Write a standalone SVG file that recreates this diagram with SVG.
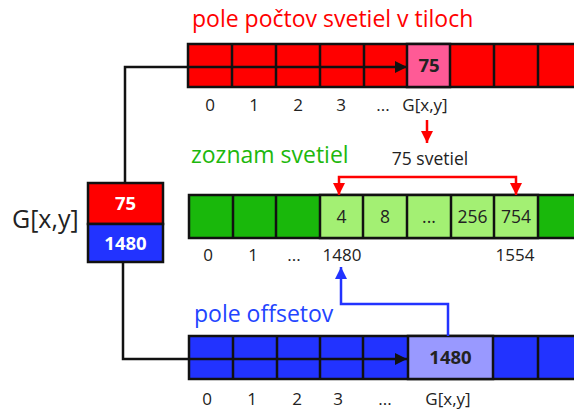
<svg xmlns="http://www.w3.org/2000/svg" width="574" height="412" viewBox="0 0 574 412">
<defs>
<style>
text{font-family:"Open Sans","Noto Sans","Liberation Sans",sans-serif;}
.cell{stroke:#111;stroke-width:2.5;}
.title{font-size:23px;}
.idx{font-size:17px;fill:#222;text-anchor:middle;}
.val{font-size:17.5px;fill:#222;text-anchor:middle;}
.bold{font-size:18.5px;font-weight:bold;fill:#222;text-anchor:middle;}
.wb{font-size:18.5px;font-weight:bold;fill:#fff;text-anchor:middle;}
.conn{fill:none;stroke-width:2.5;}
</style>
<marker id="ab" viewBox="0 0 10 10" refX="10" refY="5" markerWidth="12" markerHeight="12" markerUnits="userSpaceOnUse" orient="auto"><path d="M0,0L10,5L0,10z" fill="#111"/></marker>
<marker id="ar" viewBox="0 0 10 10" refX="10" refY="5" markerWidth="12" markerHeight="12" markerUnits="userSpaceOnUse" orient="auto"><path d="M0,0L10,5L0,10z" fill="#ff0000"/></marker>
<marker id="abl" viewBox="0 0 10 10" refX="10" refY="5" markerWidth="12" markerHeight="12" markerUnits="userSpaceOnUse" orient="auto"><path d="M0,0L10,5L0,10z" fill="#2233ff"/></marker>
</defs>
<rect width="574" height="412" fill="#fff"/>

<g id="counts-array">
<text class="title" x="192" y="27" fill="#ff0000">pole počtov svetiel v tiloch</text>
<rect class="cell" x="188" y="44" width="400" height="43" fill="#ff0000"/>
<rect class="cell" x="407" y="44" width="43" height="43" fill="#ff5a96"/>
<path class="cell" fill="none" d="M232,44V87M276,44V87M320,44V87M364,44V87M494,44V87M538,44V87"/>
<text class="bold" x="429" y="72">75</text>
<text class="idx" x="210" y="111">0</text>
<text class="idx" x="254" y="111">1</text>
<text class="idx" x="298" y="111">2</text>
<text class="idx" x="341" y="111">3</text>
<text class="idx" x="383" y="111">...</text>
<text class="idx" x="425" y="111">G[x,y]</text>
</g>

<g id="lights-list">
<text class="title" x="191" y="163" fill="#1db80d">zoznam svetiel</text>
<rect class="cell" x="189" y="195" width="400" height="43" fill="#19b80b"/>
<rect class="cell" x="320" y="195" width="218" height="43" fill="#a3f073"/>
<path class="cell" fill="none" d="M233,195V238M276,195V238M363,195V238M407,195V238M451,195V238M494,195V238"/>
<text class="val" x="341.5" y="223">4</text>
<text class="val" x="385" y="223">8</text>
<text class="val" x="429" y="223">...</text>
<text class="val" x="472.5" y="223">256</text>
<text class="val" x="516" y="223">754</text>
<text class="idx" x="208" y="261">0</text>
<text class="idx" x="253" y="261">1</text>
<text class="idx" x="294" y="261">...</text>
<text class="idx" x="342" y="261">1480</text>
<text class="idx" x="515" y="261">1554</text>
<text class="val" x="430" y="165">75 svetiel</text>
</g>

<g id="offsets-array">
<text class="title" x="194" y="322" fill="#2244ff">pole offsetov</text>
<rect class="cell" x="189" y="336" width="400" height="43" fill="#2233ff"/>
<rect class="cell" x="408" y="336" width="85" height="43" fill="#9999ff"/>
<path class="cell" fill="none" d="M233,336V379M277,336V379M320,336V379M363,336V379M538,336V379"/>
<text class="bold" x="450.5" y="364">1480</text>
<text class="idx" x="207" y="405" font-size="16.5">0</text>
<text class="idx" x="252" y="405" font-size="16.5">1</text>
<text class="idx" x="297" y="405" font-size="16.5">2</text>
<text class="idx" x="338" y="405" font-size="16.5">3</text>
<text class="idx" x="385" y="405" font-size="16.5">...</text>
<text class="idx" x="448" y="405" font-size="16.5">G[x,y]</text>
</g>

<g id="g-cell">
<text x="12" y="228" font-size="25" fill="#222">G[x,y]</text>
<rect class="cell" x="88" y="183" width="75" height="41" fill="#ff0000"/>
<rect class="cell" x="88" y="224" width="75" height="38" fill="#2233ff"/>
<text class="wb" x="125.5" y="210">75</text>
<text class="wb" x="125.5" y="250">1480</text>
</g>

<g id="connectors">
<path class="conn" stroke="#111" d="M125,183V67H407" marker-end="url(#ab)"/>
<path class="conn" stroke="#111" d="M123,262V359H407" marker-end="url(#ab)"/>
<path class="conn" stroke="#ff0000" d="M427,120V143" marker-end="url(#ar)"/>
<path class="conn" stroke="#ff0000" d="M428,177H339V195" marker-end="url(#ar)"/>
<path class="conn" stroke="#ff0000" d="M428,177H516V195" marker-end="url(#ar)"/>
<path class="conn" stroke="#2233ff" d="M448,336V304H341V267" marker-end="url(#abl)"/>
</g>
</svg>
